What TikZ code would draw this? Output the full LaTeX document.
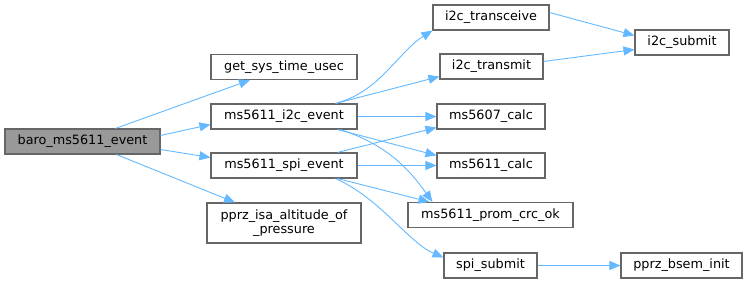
\documentclass[tikz,border=0pt]{standalone}
\usepackage{fontspec}
\setmainfont{DejaVu Sans}
\usetikzlibrary{arrows.meta}

\definecolor{boxline}{HTML}{666666}
\definecolor{boxfill}{HTML}{999999}
\definecolor{callline}{HTML}{63B8FF}

\tikzset{
  fn/.style={draw=boxline, line width=1.1pt, fill=white, minimum height=25pt,
    inner sep=2pt, font=\fontsize{12.8}{14.5}\selectfont, align=center},
  root/.style={fn, fill=boxfill},
  call/.style={draw=callline, line width=0.9pt,
    -{Triangle[length=11pt, width=9pt, fill=callline]}}
}

\begin{document}
\begin{tikzpicture}[x=1pt, y=-1pt]

\useasboundingbox (0, 0) rectangle (748, 283);

\node [root, minimum width=155pt] (baro) at (82.5, 141.5) {baro\_ms5611\_event};

\node [fn, minimum width=146pt] (systime) at (284, 67) {get\_sys\_time\_usec};
\node [fn, minimum width=146pt] (i2cev) at (284, 116.5) {ms5611\_i2c\_event};
\node [fn, minimum width=146pt] (spiev) at (284, 165.5) {ms5611\_spi\_event};
\node [fn, minimum width=154pt, minimum height=40pt] (isa) at (284, 223) {pprz\_isa\_altitude\_of\\\_pressure};

\node [fn, minimum width=116pt] (transceive) at (491, 17.5) {i2c\_transceive};
\node [fn, minimum width=103pt] (transmit) at (491.5, 66.5) {i2c\_transmit};
\node [fn, minimum width=108pt] (calcA) at (491, 116.5) {ms5607\_calc};
\node [fn, minimum width=108pt] (calcB) at (491, 165.5) {ms5611\_calc};
\node [fn, minimum width=165pt] (crc) at (490.5, 215) {ms5611\_prom\_crc\_ok};
\node [fn, minimum width=93pt] (spisub) at (490.5, 265.5) {spi\_submit};

\node [fn, minimum width=94pt] (i2csub) at (682, 42.5) {i2c\_submit};
\node [fn, minimum width=121pt] (bsem) at (681.5, 265.5) {pprz\_bsem\_init};

\draw [call] ([xshift=33pt]baro.north) -- ([xshift=-34pt]systime.south);
\draw [call] ([yshift=6pt]baro.east) -- ([yshift=-8pt]i2cev.west);
\draw [call] ([yshift=-8pt]baro.east) -- ([yshift=8pt]spiev.west);
\draw [call] ([xshift=34pt]baro.south) -- ([xshift=-49pt]isa.north);

\draw [call] ([xshift=-22pt]i2cev.north east) .. controls +(45, -12) and +(-35, 22) .. (transceive.south west);
\draw [call] ([xshift=-22pt]i2cev.north east) -- ([yshift=3pt]transmit.south west);
\draw [call] (i2cev.east) -- (calcA.west);
\draw [call] ([xshift=-20pt]i2cev.south east) -- ([yshift=-3pt]calcB.north west);
\draw [call] ([xshift=-17pt]i2cev.south east) .. controls +(45, 15) and +(-25, -35) .. ([xshift=25pt]crc.north west);

\draw [call] ([xshift=-20pt]spiev.north east) -- ([yshift=2pt]calcA.south west);
\draw [call] (spiev.east) -- (calcB.west);
\draw [call] ([xshift=-20pt]spiev.south east) -- ([xshift=22pt]crc.north west);
\draw [call] ([xshift=-22pt]spiev.south east) .. controls +(45, 20) and +(-35, -15) .. ([yshift=8pt]spisub.west);

\draw [call] ([yshift=5pt]transceive.east) -- ([yshift=7pt]i2csub.west);
\draw [call] ([yshift=5pt]transmit.east) -- ([yshift=-7pt]i2csub.west);
\draw [call] (spisub.east) -- (bsem.west);

\end{tikzpicture}
\end{document}
